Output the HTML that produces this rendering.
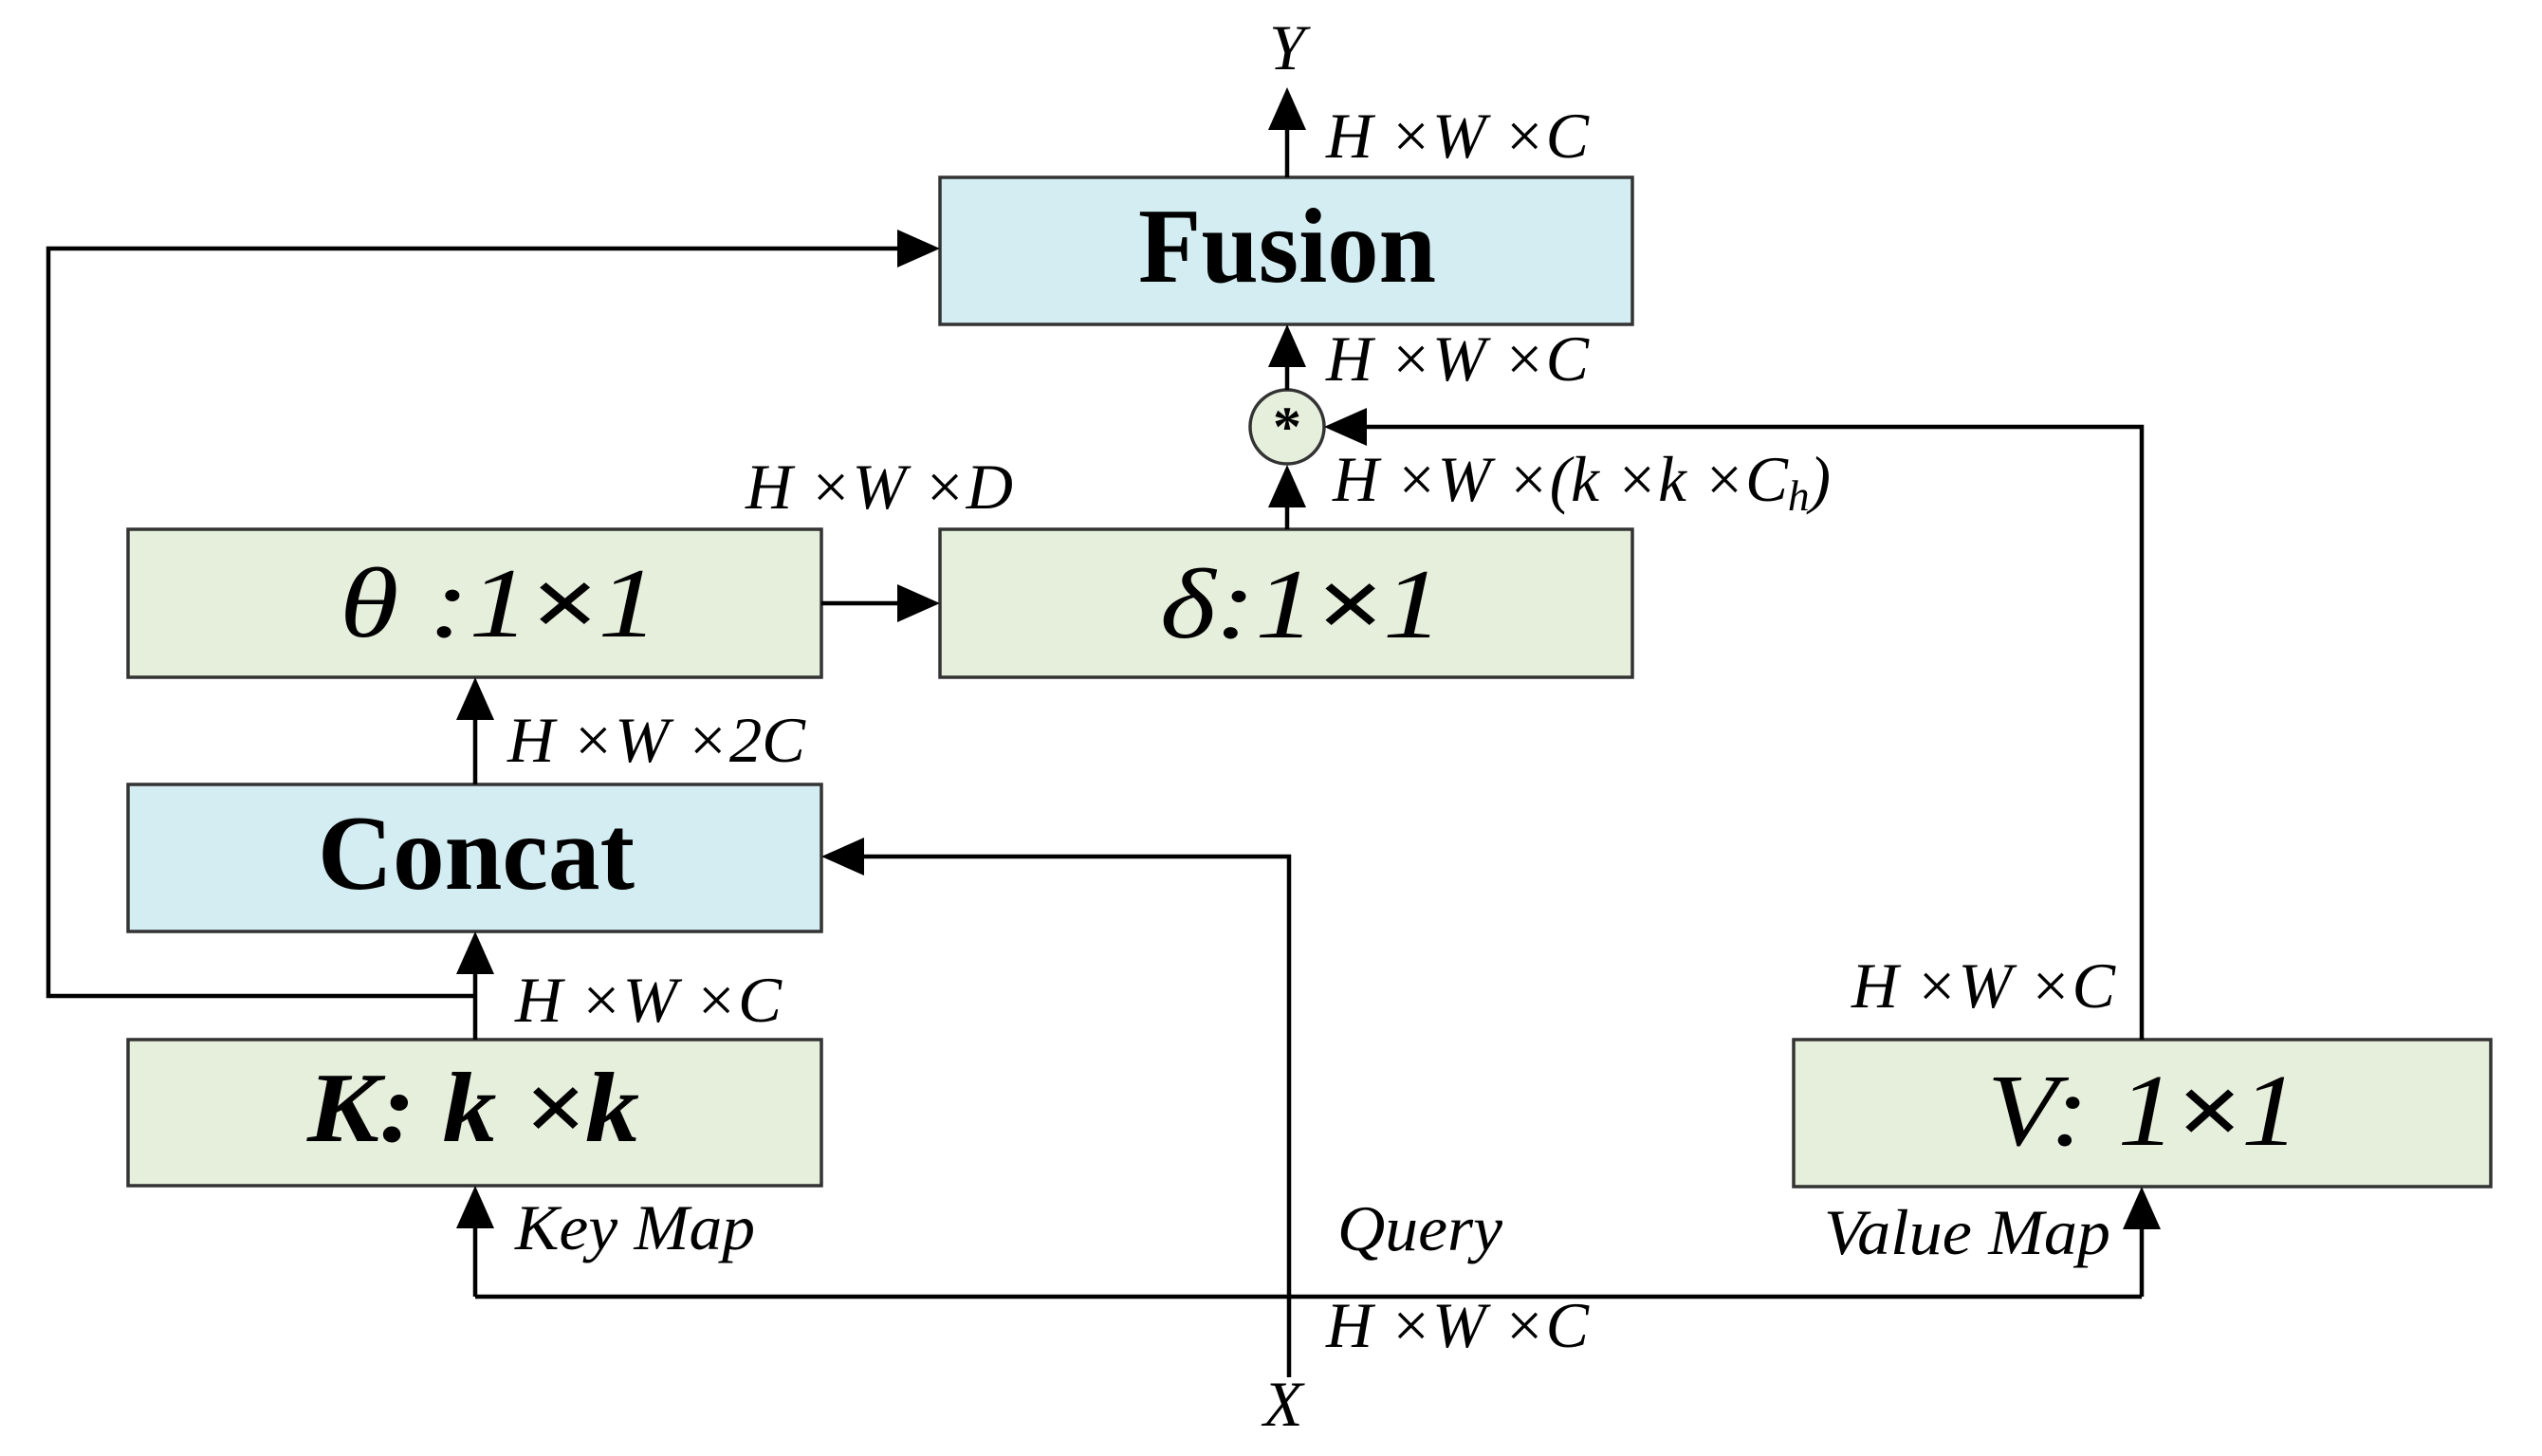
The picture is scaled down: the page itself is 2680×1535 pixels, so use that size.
<!DOCTYPE html>
<html><head><meta charset="utf-8"><style>html,body{margin:0;padding:0;background:#fff}svg{display:block}</style></head>
<body>
<svg width="2680" height="1535" viewBox="0 0 2680 1535" xmlns="http://www.w3.org/2000/svg" font-family="'Liberation Serif', serif">
<defs>
<marker id="a" markerWidth="10" markerHeight="10" refX="9" refY="5" orient="auto" markerUnits="userSpaceOnUse" viewBox="0 0 10 10"><path d="M0,0 L10,5 L0,10 z" fill="#000"/></marker>
</defs>
<g stroke="#333" stroke-width="3.5">
<rect x="991" y="187" width="730" height="155" fill="#d4edf2"/>
<rect x="991" y="558" width="730" height="156" fill="#e6efdc"/>
<rect x="135" y="558" width="731" height="156" fill="#e6efdc"/>
<rect x="135" y="827" width="731" height="155" fill="#d4edf2"/>
<rect x="135" y="1096" width="731" height="154" fill="#e6efdc"/>
<rect x="1891" y="1096" width="735" height="155" fill="#e6efdc"/>
<ellipse cx="1357" cy="450" rx="39" ry="39" fill="#e6efdc"/>
</g>
<g stroke="#000" stroke-width="4.5" fill="none">
<path d="M1357 187 V100"/>
<path d="M1357 411 V348"/>
<path d="M1357 558 V495"/>
<path d="M866 636 H985"/>
<path d="M501 827 V720"/>
<path d="M501 1096 V988"/>
<path d="M501 1050 H51 V262 H985"/>
<path d="M2258 1096 V450 H1402"/>
<path d="M501 1367 H2258"/>
<path d="M501 1367 V1256"/>
<path d="M2258 1367 V1257"/>
<path d="M1359 1452 V903 H872"/>
</g>
<g fill="#000">
<path d="M1357 92 L1337 137 L1377 137 z"/>
<path d="M1357 342 L1337 387 L1377 387 z"/>
<path d="M1357 490 L1337 535 L1377 535 z"/>
<path d="M991 636 L946 616 L946 656 z"/>
<path d="M501 714 L481 759 L521 759 z"/>
<path d="M501 982 L481 1027 L521 1027 z"/>
<path d="M991 262 L946 242 L946 282 z"/>
<path d="M1396 450 L1441 430 L1441 470 z"/>
<path d="M501 1250 L481 1295 L521 1295 z"/>
<path d="M2258 1251 L2238 1296 L2278 1296 z"/>
<path d="M866 903 L911 883 L911 923 z"/>
</g>
<text x="1357" y="470" font-size="60" font-weight="bold" text-anchor="middle">*</text>
<g font-weight="bold">
<text x="1200" y="297" font-size="112" textLength="314" lengthAdjust="spacingAndGlyphs">Fusion</text>
<text x="335" y="937" font-size="112" textLength="334" lengthAdjust="spacingAndGlyphs">Concat</text>
<text x="324" y="1203" font-size="105" font-style="italic" textLength="350" lengthAdjust="spacingAndGlyphs">K: k ×k</text>
</g>
<g font-style="italic" font-size="105">
<text x="358" y="671" textLength="336" lengthAdjust="spacingAndGlyphs">θ :1<tspan font-weight="bold">×</tspan>1</text>
<text x="1223" y="672" textLength="298" lengthAdjust="spacingAndGlyphs">δ:1<tspan font-weight="bold">×</tspan>1</text>
<text x="2095" y="1207" textLength="329" lengthAdjust="spacingAndGlyphs" font-size="108">V: 1<tspan font-weight="bold">×</tspan>1</text>
</g>
<g font-style="italic" font-size="68">
<text x="1338" y="73">Y</text>
<text x="1332" y="1503">X</text>
<text x="1398" y="166" textLength="277" lengthAdjust="spacingAndGlyphs">H ×W ×C</text>
<text x="1398" y="401" textLength="277" lengthAdjust="spacingAndGlyphs">H ×W ×C</text>
<text x="1405" y="528" textLength="525" lengthAdjust="spacingAndGlyphs">H ×W ×(k ×k ×C<tspan font-size="46" dy="10">h</tspan><tspan dy="-10">)</tspan></text>
<text x="786" y="536" textLength="282" lengthAdjust="spacingAndGlyphs">H ×W ×D</text>
<text x="535" y="803" textLength="314" lengthAdjust="spacingAndGlyphs">H ×W ×2C</text>
<text x="543" y="1077" textLength="281" lengthAdjust="spacingAndGlyphs">H ×W ×C</text>
<text x="1952" y="1062" textLength="278" lengthAdjust="spacingAndGlyphs">H ×W ×C</text>
<text x="1398" y="1420" textLength="277" lengthAdjust="spacingAndGlyphs">H ×W ×C</text>
<text x="543" y="1317" textLength="253" lengthAdjust="spacingAndGlyphs">Key Map</text>
<text x="1410" y="1318" textLength="174" lengthAdjust="spacingAndGlyphs">Query</text>
<text x="1923" y="1322" textLength="302" lengthAdjust="spacingAndGlyphs">Value Map</text>
</g>
</svg>
</body></html>
